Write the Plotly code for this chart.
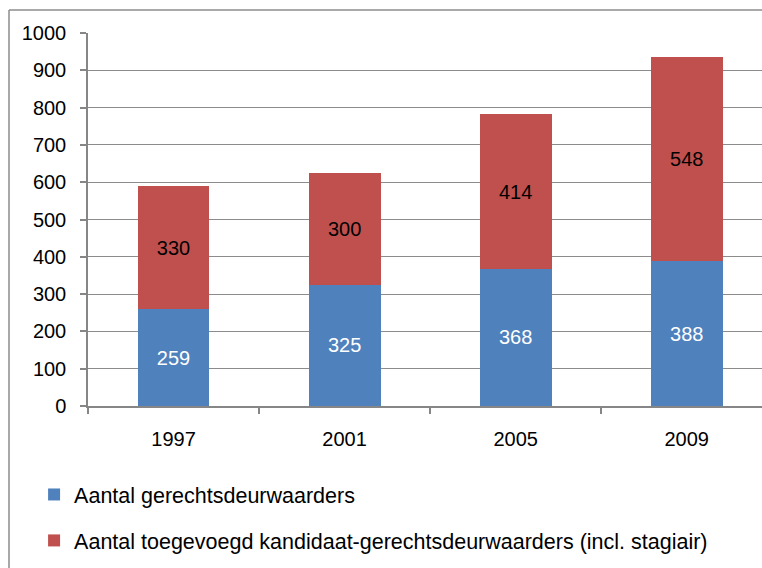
import plotly.graph_objects as go

years = ["1997", "2001", "2005", "2009"]
deurwaarders = [259, 325, 368, 388]
kandidaten = [330, 300, 414, 548]
y_ticks = [0, 100, 200, 300, 400, 500, 600, 700, 800, 900, 1000]
boundaries = [-0.5, 0.5, 1.5, 2.5, 3.5]

font_family = "Liberation Sans, Arial, sans-serif"
axis_grey = "#868686"
frame_grey = "#8c8c8c"

fig = go.Figure()

# blue series at the bottom of each stack
fig.add_trace(go.Bar(
    x=years, y=deurwaarders, name="Aantal gerechtsdeurwaarders",
    marker=dict(color="#4f81bd", line=dict(width=0)),
    width=0.42, text=deurwaarders, textposition="inside",
    insidetextanchor="middle", textangle=0, constraintext="none",
    textfont=dict(color="white", size=20, family=font_family),
    legendgroup="a",
))

# red series stacked on top
fig.add_trace(go.Bar(
    x=years, y=kandidaten,
    name="Aantal toegevoegd kandidaat-gerechtsdeurwaarders (incl. stagiair)",
    marker=dict(color="#c0504d", line=dict(width=0)),
    width=0.42, text=kandidaten, textposition="inside",
    insidetextanchor="middle", textangle=0, constraintext="none",
    textfont=dict(color="black", size=20, family=font_family),
    legendgroup="b",
))

fig.update_layout(
    barmode="stack",
    width=762, height=568,
    margin=dict(l=88, r=0, t=33, b=162),
    paper_bgcolor="white", plot_bgcolor="white",
    font=dict(family=font_family, size=20, color="black"),
    showlegend=True,
    legend=dict(
        x=-0.080, y=-0.1823, xanchor="left", yanchor="top",
        orientation="v", tracegroupgap=15,
        font=dict(size=21.5, family=font_family, color="black"),
        itemwidth=30,
    ),
    # chart frame: only the left and top edges are inside the picture
    shapes=[
        dict(type="line", xref="paper", yref="paper",
             x0=-0.1172, x1=-0.1172, y0=-0.7, y1=1.0617,
             line=dict(color=frame_grey, width=1.5), layer="below"),
        dict(type="line", xref="paper", yref="paper",
             x0=-0.1172, x1=1.5, y0=1.0617, y1=1.0617,
             line=dict(color=frame_grey, width=1.5), layer="below"),
    ],
    # second x axis only to draw the upper half of the crossing ticks
    xaxis2=dict(
        overlaying="x", anchor="y", side="bottom",
        range=[-0.5, 3.44], tickvals=boundaries,
        ticks="inside", ticklen=6, tickcolor=axis_grey, tickwidth=1.5,
        showticklabels=False, showgrid=False, showline=False,
        zeroline=False,
    ),
)

fig.layout.xaxis.update(
    type="category", range=[-0.5, 3.44],
    showline=True, linecolor=axis_grey, linewidth=1.5,
    ticks="outside", tickson="boundaries", ticklen=6,
    tickcolor=axis_grey, tickwidth=1.5,
    showgrid=False, tickfont=dict(size=20),
    ticklabelstandoff=14,
)

fig.update_yaxes(
    range=[0, 1000], tickvals=y_ticks,
    showline=True, linecolor=axis_grey, linewidth=1.5,
    ticks="outside", ticklen=6, tickcolor=axis_grey, tickwidth=1.5,
    showgrid=True, gridcolor=frame_grey, gridwidth=1.2,
    zeroline=False, tickfont=dict(size=20),
    ticklabelstandoff=10,
)

# drop the default page margin so the figure sits at the window's corner
fig.write_html(
    "out.html",
    config={"displayModeBar": False},
    post_script="document.body.style.margin='0';document.body.style.overflow='hidden';",
)
